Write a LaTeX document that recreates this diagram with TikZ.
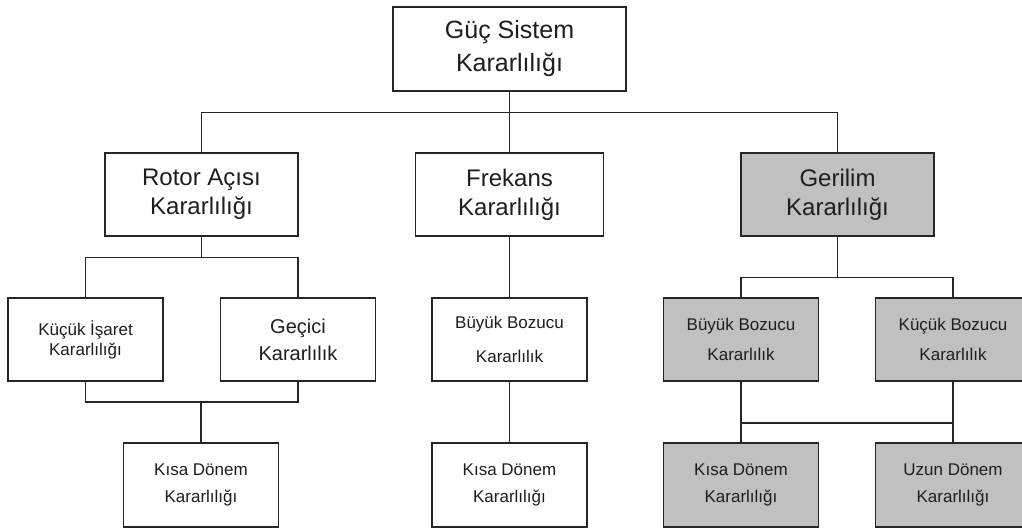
\documentclass[tikz,border=0pt]{standalone}
\usepackage{fontspec}
\setmainfont{Liberation Sans}
\definecolor{linec}{HTML}{262626}
\definecolor{boxgray}{HTML}{C0C0C0}
\definecolor{textc}{HTML}{1E1E1E}
\begin{document}
\begin{tikzpicture}[x=1pt,y=-1pt,
  box/.style={draw=linec,line width=1.4pt,fill=white,align=center,text=textc,
    inner sep=0pt},
  bigbox/.style={box,minimum width=193pt,minimum height=83pt,
    font=\fontsize{24}{29}\selectfont},
  smallbox/.style={box,minimum width=155pt,minimum height=83pt,
    font=\fontsize{17}{24}\selectfont},
  grey/.style={fill=boxgray},
  wire/.style={draw=linec,line width=1.4pt}]
\useasboundingbox (0,0) rectangle (1022,530);
\clip (0,0) rectangle (1022,530);
\fill[white] (0,0) rectangle (1022,530);

% root
\node[box,minimum width=233pt,minimum height=84pt,
  font=\fontsize{25}{33}\selectfont] (root) at (509.5,49) {Güç Sistem\\Kararlılığı};

% second level
\node[bigbox] (rotor) at (201.5,194.5) {Rotor Açısı\\Kararlılığı};
\node[bigbox,minimum width=188pt] (freq) at (509.5,194.5) {Frekans\\Kararlılığı};
\node[bigbox,grey] (volt) at (837.5,194.5) {Gerilim\\Kararlılığı};

% third level
\node[smallbox,font=\fontsize{17}{20}\selectfont] (small) at (85.5,339.5) {Küçük İşaret\\Kararlılığı};
\node[smallbox,font=\fontsize{20}{27}\selectfont] (trans) at (298,339.5) {Geçici\\Kararlılık};
\node[smallbox,font=\fontsize{17}{34}\selectfont] (fbig) at (509.5,339.5) {Büyük Bozucu\\Kararlılık};
\node[smallbox,grey,font=\fontsize{17}{30}\selectfont] (vbig) at (741,339.5) {Büyük Bozucu\\Kararlılık};
\node[smallbox,grey,font=\fontsize{17}{30}\selectfont] (vsmall) at (953,339.5) {Küçük Bozucu\\Kararlılık};

% fourth level
\node[smallbox,minimum height=84pt,font=\fontsize{17}{27}\selectfont] (rshort) at (201,485) {Kısa Dönem\\Kararlılığı};
\node[smallbox,minimum height=84pt,font=\fontsize{17}{27}\selectfont] (fshort) at (509.5,485) {Kısa Dönem\\Kararlılığı};
\node[smallbox,grey,minimum height=84pt,font=\fontsize{17}{27}\selectfont] (vshort) at (741,485) {Kısa Dönem\\Kararlılığı};
\node[smallbox,grey,minimum height=84pt,font=\fontsize{17}{27}\selectfont] (vlong) at (953,485) {Uzun Dönem\\Kararlılığı};

% root to second level
\draw[wire] (root.south) -- ++(0,21) coordinate (rb);
\draw[wire] (rotor.north) |- (rb) -| (volt.north);
\draw[wire] (rb) -- (freq.north);

% rotor angle branch
\draw[wire] (rotor.south) -- ++(0,21) coordinate (ab);
\draw[wire] (small.north) |- (ab) -| (trans.north);
\draw[wire] (small.south) |- (rshort.north |- 0,402) coordinate (am)
  -| (trans.south);
\draw[wire] (am) -- (rshort.north);

% frequency branch
\draw[wire] (freq.south) -- (fbig.north);
\draw[wire] (fbig.south) -- (fshort.north);

% voltage branch
\draw[wire] (volt.south) -- ++(0,41) coordinate (vb);
\draw[wire] (vbig.north) |- (vb) -| (vsmall.north);
\draw[wire] (vbig.south) -- (vshort.north);
\draw[wire] (vsmall.south) -- (vlong.north);
\draw[wire] (vbig.south |- 0,423) -- (vsmall.south |- 0,423);
\end{tikzpicture}
\end{document}
